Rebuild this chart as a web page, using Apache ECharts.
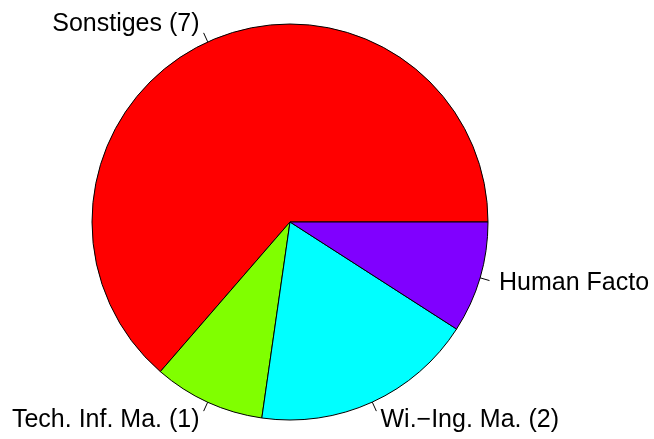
<!DOCTYPE html>
<html>
<head>
<meta charset="utf-8">
<script src="https://cdn.jsdelivr.net/npm/echarts@6/dist/echarts.min.js"></script>
<style>
  html, body { margin: 0; padding: 0; background: #fff; }
  #chartPie { width: 654px; height: 439px; }
</style>
</head>
<body>
<div id="chartPie"></div>
<script>
// slices in R order (counter-clockwise from 3 o'clock)
var sliceNames = ["Sonstiges (7)", "Tech. Inf. Ma. (1)", "Wi.\u2212Ing. Ma. (2)", "Human Facto"];
var sliceValues = [7, 1, 2, 1];
var sliceColors = ["#FF0000", "#80FF00", "#00FFFF", "#8000FF"];

var chartPie = echarts.init(document.getElementById("chartPie"));

var pieData = sliceNames.map(function (name, i) {
  return { name: name, value: sliceValues[i], itemStyle: { color: sliceColors[i] } };
});

var R = 198;

chartPie.setOption({
  animation: false,
  series: [
    {
      // the pie itself with short tick lines (r -> 1.05r)
      type: "pie",
      left: 0, top: 0, width: 654, height: 439,
      center: [290, 222],
      radius: R,
      startAngle: 0,
      clockwise: false,
      avoidLabelOverlap: false,
      silent: true,
      z: 2,
      itemStyle: { borderColor: "#000", borderWidth: 1 },
      label: { show: true, position: "outside", color: "rgba(0,0,0,0)", fontSize: 2, formatter: " " },
      labelLine: { show: true, length: R * 0.05, length2: 0, lineStyle: { color: "#000", width: 1 } },
      labelLayout: { hideOverlap: false },
      emphasis: { disabled: true },
      data: pieData
    },
    {
      // labels at 1.1r
      type: "pie",
      left: 0, top: 0, width: 1200, height: 439,
      center: [290, 222],
      radius: R,
      startAngle: 0,
      clockwise: false,
      avoidLabelOverlap: false,
      silent: true,
      z: 3,
      itemStyle: { color: "rgba(0,0,0,0)", borderWidth: 0 },
      label: {
        show: true,
        position: "outside",
        color: "#000",
        fontSize: 25,
        fontFamily: "Liberation Sans, Arial, sans-serif",
        distanceToLabelLine: 0,
        bleedMargin: 0,
        overflow: "none"
      },
      labelLine: { show: false, length: R * 0.1, length2: 0 },
      labelLayout: { hideOverlap: false },
      emphasis: { disabled: true },
      data: sliceNames.map(function (name, i) { return { name: name, value: sliceValues[i] }; })
    }
  ]
});
</script>
</body>
</html>
